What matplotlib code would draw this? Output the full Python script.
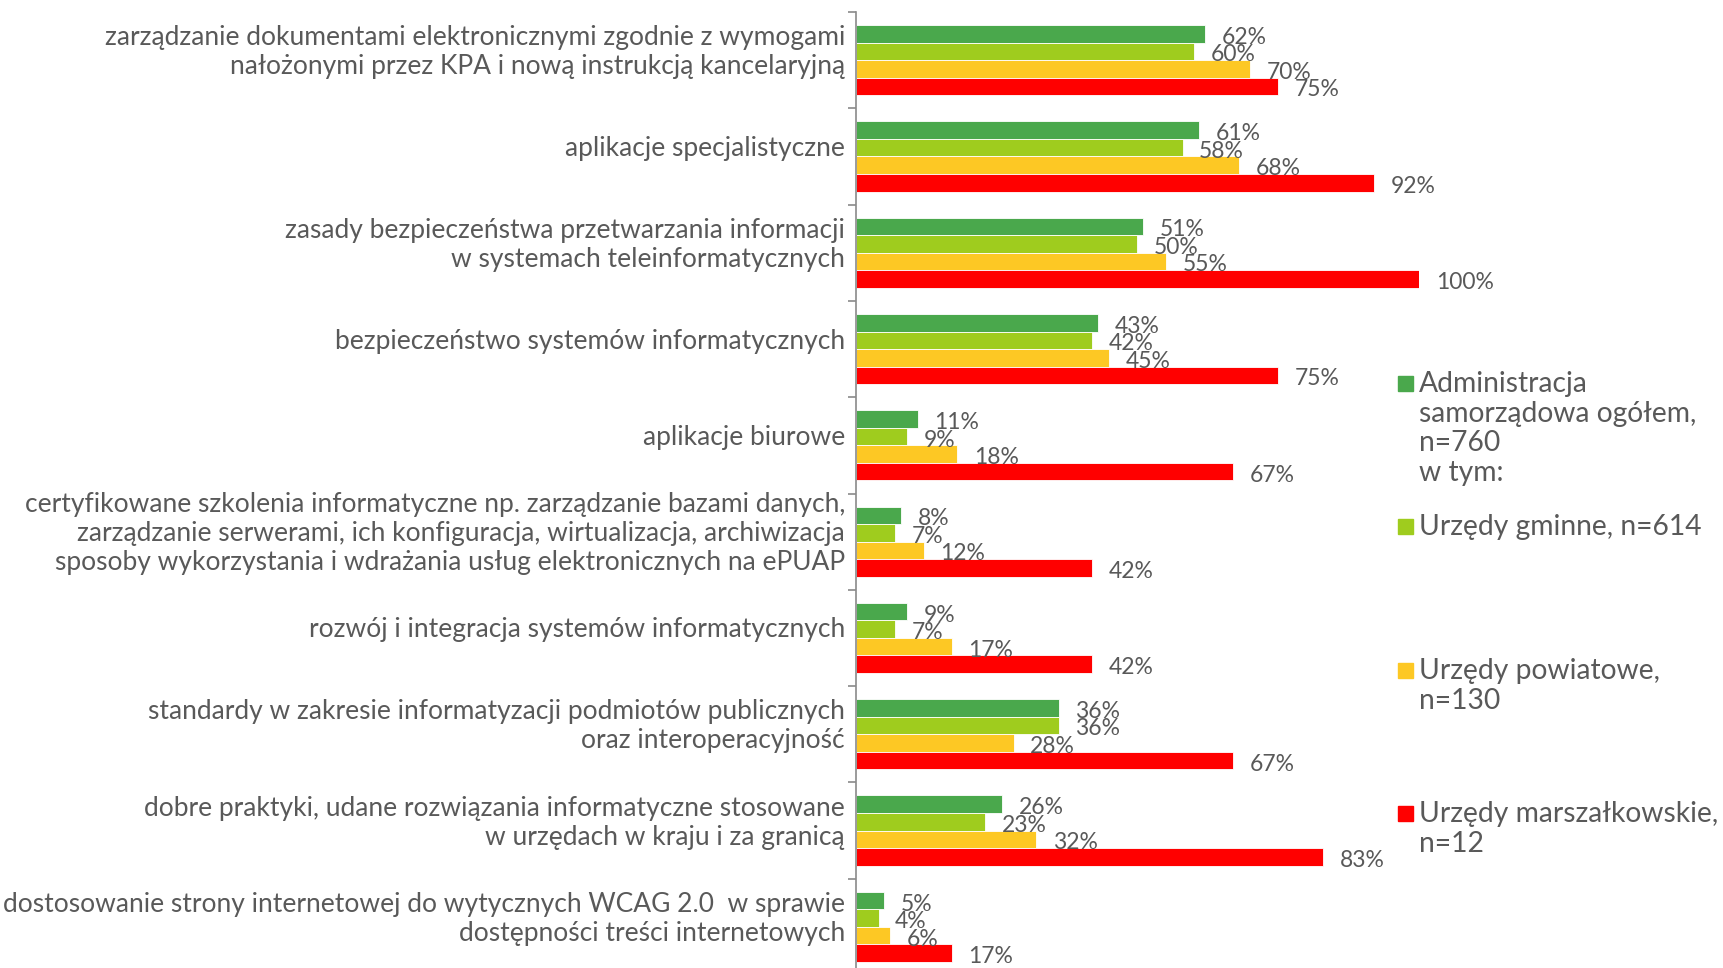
import numpy as np
import matplotlib.pyplot as plt
from matplotlib.patches import Rectangle
from matplotlib.transforms import ScaledTranslation

categories = [
    "zarządzanie dokumentami elektronicznymi zgodnie z wymogami\nnałożonymi przez KPA i nową instrukcją kancelaryjną",
    "aplikacje specjalistyczne",
    "zasady bezpieczeństwa przetwarzania informacji\nw systemach teleinformatycznych",
    "bezpieczeństwo systemów informatycznych",
    "aplikacje biurowe",
    "certyfikowane szkolenia informatyczne np. zarządzanie bazami danych,\nzarządzanie serwerami, ich konfiguracja, wirtualizacja, archiwizacja\nsposoby wykorzystania i wdrażania usług elektronicznych na ePUAP",
    "rozwój i integracja systemów informatycznych",
    "standardy w zakresie informatyzacji podmiotów publicznych\noraz interoperacyjność",
    "dobre praktyki, udane rozwiązania informatyczne stosowane\nw urzędach w kraju i za granicą",
    "dostosowanie strony internetowej do wytycznych WCAG 2.0  w sprawie\ndostępności treści internetowych",
]
ogolem = [62, 61, 51, 43, 11, 8, 9, 36, 26, 5]
gminne = [60, 58, 50, 42, 9, 7, 7, 36, 23, 4]
powiatowe = [70, 68, 55, 45, 18, 12, 17, 28, 32, 6]
marszalkowskie = [75, 92, 100, 75, 67, 42, 42, 67, 83, 17]

series = [ogolem, gminne, powiatowe, marszalkowskie]
names = ["Administracja\nsamorządowa ogółem,\nn=760\nw tym:",
         "Urzędy gminne, n=614",
         "Urzędy powiatowe,\nn=130",
         "Urzędy marszałkowskie,\nn=12"]
colors = ["#4aa84c", "#9fcc1e", "#fdc824", "#ff0000"]

txt = "#595959"
plt.rcParams["font.family"] = ["Lato", "DejaVu Sans"]

W, H = 1724, 968
fig = plt.figure(figsize=(W / 100, H / 100), dpi=100)
ax = fig.add_axes([856 / W, 1 - 975 / H, (1419 - 856) / W, 963 / H])

y = np.arange(len(categories))
h = 0.182
for i, (vals, c) in enumerate(zip(series, colors)):
    pos = y + (i - 1.5) * h
    ax.barh(pos, vals, height=h, color=c, edgecolor="white", linewidth=0.6)
    for p, v in zip(pos, vals):
        ax.annotate(f"{v}%", (v, p), xytext=(12, -2.5), textcoords="offset points",
                    ha="left", va="center", fontsize=16.5, color=txt, annotation_clip=False)

ax.set_xlim(0, 100)
ax.set_ylim(len(categories) - 0.5, -0.5)
ax.set_xticks([])
ax.set_yticks([])
ax.set_yticks(np.arange(-0.5, len(categories)), minor=True)
ax.tick_params(axis="y", which="minor", length=5.5, width=1.2, color="#8a8a8a", direction="out")
for s in ["top", "right", "bottom"]:
    ax.spines[s].set_visible(False)
ax.spines["left"].set_color("#8a8a8a")
ax.spines["left"].set_linewidth(1.2)

# category labels, a bit above the group centre as in the original
off = ScaledTranslation(-11 / 100, 8 / 100, fig.dpi_scale_trans)
for yi, lab in zip(y, categories):
    ax.text(0, yi, lab, transform=ax.get_yaxis_transform() + off, ha="right", va="center",
            multialignment="right", fontsize=19, color=txt, linespacing=1.2)

# legend drawn by hand (entries evenly spaced down the right side)
tops = [383, 526, 670, 813]
for top, name, c in zip(tops, names, colors):
    fig.patches.append(Rectangle((1398 / W, 1 - (top + 8) / H), 15 / W, 15 / H,
                                 transform=fig.transFigure, color=c))
    fig.text(1419 / W, 1 - (top - 12) / H, name, ha="left", va="top", fontsize=20.3,
             color=txt, linespacing=1.17)

fig.savefig("out.png", dpi=100)
